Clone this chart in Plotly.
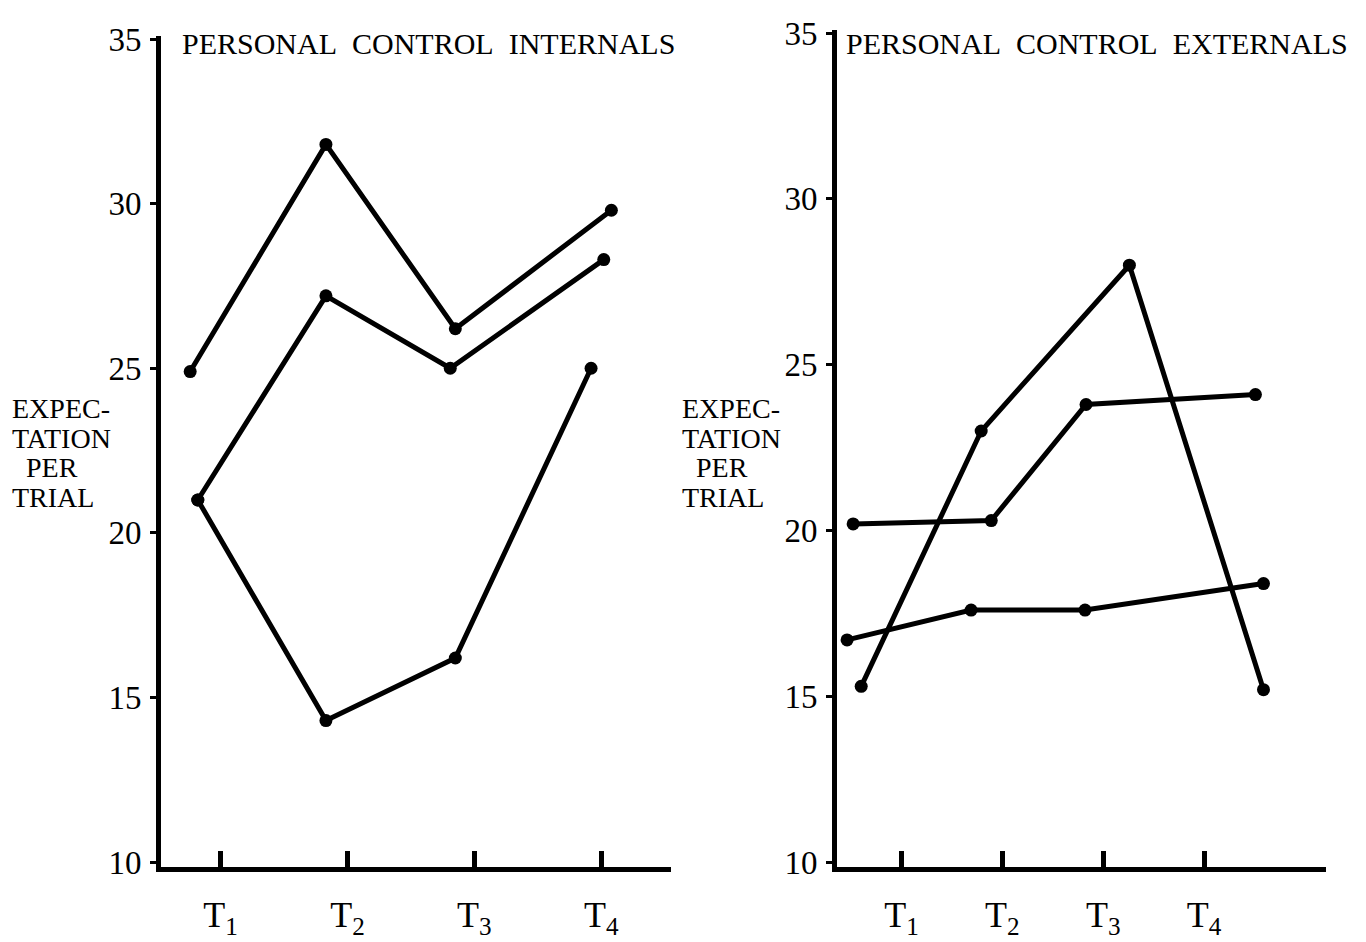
import plotly.graph_objs as go

# Trial positions (in units of the T1..T4 tick spacing) and expectation values
trial_ticks = [1, 2, 3, 4]
trial_labels = ['T<sub>1</sub>', 'T<sub>2</sub>', 'T<sub>3</sub>', 'T<sub>4</sub>']
y_ticks = [10, 15, 20, 25, 30, 35]

# Personal control internals
int_a_x = [0.76, 1.83, 2.85, 4.08]
int_a_y = [24.9, 31.8, 26.2, 29.8]
int_b_x = [0.82, 1.83, 2.81, 4.02]
int_b_y = [21.0, 27.2, 25.0, 28.3]
int_c_x = [0.82, 1.83, 2.85, 3.92]
int_c_y = [21.0, 14.3, 16.2, 25.0]

# Personal control externals
ext_a_x = [0.60, 1.79, 3.26, 4.59]
ext_a_y = [15.3, 23.0, 28.0, 15.2]
ext_b_x = [0.52, 1.89, 2.83, 4.51]
ext_b_y = [20.2, 20.3, 23.8, 24.1]
ext_c_x = [0.46, 1.69, 2.82, 4.59]
ext_c_y = [16.7, 17.6, 17.6, 18.4]

titles = ['PERSONAL&nbsp; CONTROL&nbsp; INTERNALS', 'PERSONAL&nbsp; CONTROL&nbsp; EXTERNALS']
ylabel_lines = ['EXPEC-', 'TATION', '&nbsp;&nbsp;PER', 'TRIAL']

W, H = 1366, 942
line_style = dict(color='black', width=5)
marker_style = dict(color='black', size=13)

fig = go.Figure()

for xs, ys in [(int_a_x, int_a_y), (int_b_x, int_b_y), (int_c_x, int_c_y)]:
    fig.add_trace(go.Scatter(x=xs, y=ys, mode='lines+markers',
                             line=line_style, marker=marker_style,
                             xaxis='x', yaxis='y', showlegend=False))

for xs, ys in [(ext_a_x, ext_a_y), (ext_b_x, ext_b_y), (ext_c_x, ext_c_y)]:
    fig.add_trace(go.Scatter(x=xs, y=ys, mode='lines+markers',
                             line=line_style, marker=marker_style,
                             xaxis='x2', yaxis='y2', showlegend=False))

x_common = dict(tickvals=trial_ticks, ticktext=trial_labels,
                ticks='inside', ticklen=16, tickwidth=5, tickcolor='black',
                showline=True, linecolor='black', linewidth=5,
                showgrid=False, zeroline=False, ticklabelstandoff=12,
                tickfont=dict(family='Liberation Serif', size=36, color='black'))
y_common = dict(tickvals=y_ticks, range=[9.85, 35.1],
                ticks='outside', ticklen=6, tickwidth=3, tickcolor='black',
                showline=True, linecolor='black', linewidth=5,
                showgrid=False, zeroline=False, ticklabelstandoff=2,
                ticklabeloverflow='allow',
                tickfont=dict(family='Liberation Serif', size=33, color='black'))

fig.update_layout(
    width=W, height=H,
    margin=dict(l=0, r=0, t=0, b=0),
    paper_bgcolor='white', plot_bgcolor='white',
    xaxis=dict(x_common, domain=[153 / W, 663 / W], range=[0.53, 4.55], anchor='y'),
    yaxis=dict(y_common, domain=[0.0764, 0.9850], anchor='x'),
    xaxis2=dict(x_common, domain=[829 / W, 1318 / W], range=[0.36, 5.21], anchor='y2'),
    yaxis2=dict(y_common, domain=[0.0764, 0.9915], anchor='x2'),
)

title_font = dict(family='Liberation Serif', size=30, color='black')
label_font = dict(family='Liberation Serif', size=28, color='black')

for tx, text in zip([172, 836], titles):
    fig.add_annotation(text=text, xref='paper', yref='paper',
                       x=tx / W, y=(H - 22) / H, xanchor='left', yanchor='middle',
                       showarrow=False, font=title_font)

for lx in [2, 672]:
    for i, text in enumerate(ylabel_lines):
        fig.add_annotation(text=text, xref='paper', yref='paper',
                           x=lx / W, y=(H - (398 + 30.5 * i)) / H,
                           xanchor='left', yanchor='middle',
                           showarrow=False, font=label_font)

fig.write_html('out.html')
